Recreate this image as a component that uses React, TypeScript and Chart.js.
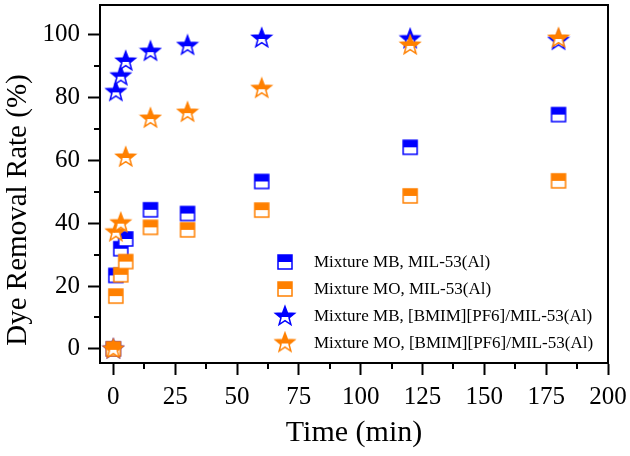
import React, { useEffect, useRef } from "react";
import { Chart, registerables } from "chart.js";
Chart.register(...registerables);

// ---- data ----
const timesMin = [0, 1, 3, 5, 15, 30, 60, 120, 180];
const mbMil = [0, 23.4, 31.9, 35.0, 44.3, 43.1, 53.3, 64.2, 74.6];
const moMil = [0, 16.8, 23.6, 27.8, 38.7, 37.9, 44.2, 48.7, 53.5];
const mbIl = [0, 82.0, 87.0, 91.7, 94.8, 96.7, 99.0, 98.8, 98.3];
const moIl = [0, 37.3, 40.2, 61.1, 73.5, 75.4, 83.0, 96.8, 99.0];
const seriesLabels = [
  "Mixture MB, MIL-53(Al)",
  "Mixture MO, MIL-53(Al)",
  "Mixture MB, [BMIM][PF6]/MIL-53(Al)",
  "Mixture MO, [BMIM][PF6]/MIL-53(Al)",
];
const xTitle = "Time (min)";
const yTitle = "Dye Removal Rate (%)";

const BLUE = "#0000FF";
const ORANGE = "#FF8000";
const FONT = "'Liberation Serif', 'Times New Roman', serif";

function makeSquare(color: string) {
  const c = document.createElement("canvas");
  c.width = 18;
  c.height = 18;
  const ctx = c.getContext("2d")!;
  ctx.fillStyle = "#fff";
  ctx.fillRect(2, 2, 14, 14);
  ctx.fillStyle = color;
  ctx.fillRect(2, 2, 14, 7);
  ctx.strokeStyle = color;
  ctx.lineWidth = 1.5;
  ctx.strokeRect(2, 2, 14, 14);
  return c;
}

function makeStar(color: string) {
  const c = document.createElement("canvas");
  c.width = 24;
  c.height = 24;
  const ctx = c.getContext("2d")!;
  const R = 10;
  const r = R * 0.42;
  const path = () => {
    ctx.beginPath();
    for (let i = 0; i < 10; i++) {
      const ang = -Math.PI / 2 + (i * Math.PI) / 5;
      const rad = i % 2 === 0 ? R : r;
      const x = 12 + rad * Math.cos(ang);
      const y = 12.5 + rad * Math.sin(ang);
      if (i === 0) ctx.moveTo(x, y);
      else ctx.lineTo(x, y);
    }
    ctx.closePath();
  };
  path();
  ctx.fillStyle = "#fff";
  ctx.fill();
  ctx.save();
  ctx.beginPath();
  ctx.rect(0, 0, 24, 13);
  ctx.clip();
  path();
  ctx.fillStyle = color;
  ctx.fill();
  ctx.restore();
  path();
  ctx.strokeStyle = color;
  ctx.lineWidth = 1.5;
  ctx.lineJoin = "miter";
  ctx.stroke();
  return c;
}

export default function App() {
  const ref = useRef<HTMLCanvasElement | null>(null);

  useEffect(() => {
    if (!ref.current) return;
    const markers = [makeSquare(BLUE), makeSquare(ORANGE), makeStar(BLUE), makeStar(ORANGE)];
    const series = [mbMil, moMil, mbIl, moIl];
    const colors = [BLUE, ORANGE, BLUE, ORANGE];
    const orders = [2, 1, 3, 0];

    const extras = {
      id: "extras",
      afterDraw(chart: any) {
        const { ctx, chartArea } = chart;
        const xs = chart.scales.x;
        const ys = chart.scales.y;
        ctx.save();
        // frame top/right
        ctx.strokeStyle = "#000";
        ctx.lineWidth = 2;
        ctx.beginPath();
        ctx.moveTo(chartArea.left, chartArea.top);
        ctx.lineTo(chartArea.right, chartArea.top);
        ctx.lineTo(chartArea.right, chartArea.bottom);
        ctx.stroke();
        // minor ticks
        ctx.beginPath();
        for (let v = 12.5; v < 200; v += 25) {
          const px = Math.round(xs.getPixelForValue(v));
          ctx.moveTo(px, chartArea.bottom);
          ctx.lineTo(px, chartArea.bottom + 6);
        }
        for (let v = 10; v < 110; v += 20) {
          const py = Math.round(ys.getPixelForValue(v));
          ctx.moveTo(chartArea.left, py);
          ctx.lineTo(chartArea.left - 6, py);
        }
        ctx.stroke();
        // y title
        ctx.save();
        ctx.translate(18, 210);
        ctx.rotate(-Math.PI / 2);
        ctx.fillStyle = "#000";
        ctx.font = `29px ${FONT}`;
        ctx.textAlign = "center";
        ctx.textBaseline = "middle";
        ctx.fillText(yTitle, 0, 0);
        ctx.restore();
        // legend
        const rows = [262, 289, 316, 342.5];
        ctx.font = `17px ${FONT}`;
        ctx.fillStyle = "#000";
        ctx.textAlign = "left";
        ctx.textBaseline = "middle";
        seriesLabels.forEach((lab, i) => {
          const m = markers[i];
          ctx.drawImage(m, 285 - m.width / 2, rows[i] - m.height / 2);
          ctx.fillText(lab, 314, rows[i] + 1);
        });
        ctx.restore();
      },
    };

    const chart = new Chart(ref.current, {
      type: "scatter",
      data: {
        datasets: series.map((s, i) => ({
          label: seriesLabels[i],
          data: timesMin.map((t, j) => ({ x: t, y: s[j] })),
          pointStyle: markers[i] as any,
          borderColor: colors[i],
          backgroundColor: colors[i],
          showLine: false,
          order: orders[i],
          clip: false as any,
        })),
      },
      options: {
        responsive: false,
        animation: false,
        devicePixelRatio: 1,
        layout: { padding: { left: 0, top: 3, right: 22, bottom: 0 } },
        plugins: { legend: { display: false }, tooltip: { enabled: false } },
        scales: {
          x: {
            type: "linear",
            min: -5.4,
            max: 200,
            afterFit: (s: any) => {
              s.height = 93;
              s.paddingLeft = 0;
              s.paddingRight = 0;
            },
            ticks: {
              stepSize: 25,
              includeBounds: false,
              color: "#000",
              font: { family: FONT, size: 25 },
              padding: 7,
              maxRotation: 0,
            },
            grid: {
              drawOnChartArea: false,
              drawTicks: true,
              tickLength: 12,
              tickWidth: 2,
              tickColor: "#000",
            },
            border: { display: true, color: "#000", width: 2 },
            title: {
              display: true,
              text: xTitle,
              color: "#000",
              font: { family: FONT, size: 30 },
              padding: { top: 0, bottom: 5 },
            },
          },
          y: {
            type: "linear",
            min: -4.5,
            max: 109.5,
            afterFit: (s: any) => {
              s.width = 100;
              s.paddingTop = 0;
              s.paddingBottom = 0;
            },
            ticks: {
              stepSize: 20,
              includeBounds: false,
              color: "#000",
              font: { family: FONT, size: 25 },
              padding: 8,
            },
            grid: {
              drawOnChartArea: false,
              drawTicks: true,
              tickLength: 12,
              tickWidth: 2,
              tickColor: "#000",
            },
            border: { display: true, color: "#000", width: 2 },
          },
        },
      },
      plugins: [extras],
    });
    return () => chart.destroy();
  }, []);

  return (
    <div style={{ position: "absolute", left: 0, top: 0, width: 630, height: 456, background: "#fff" }}>
      <canvas ref={ref} width={630} height={456} style={{ display: "block" }} />
    </div>
  );
}
